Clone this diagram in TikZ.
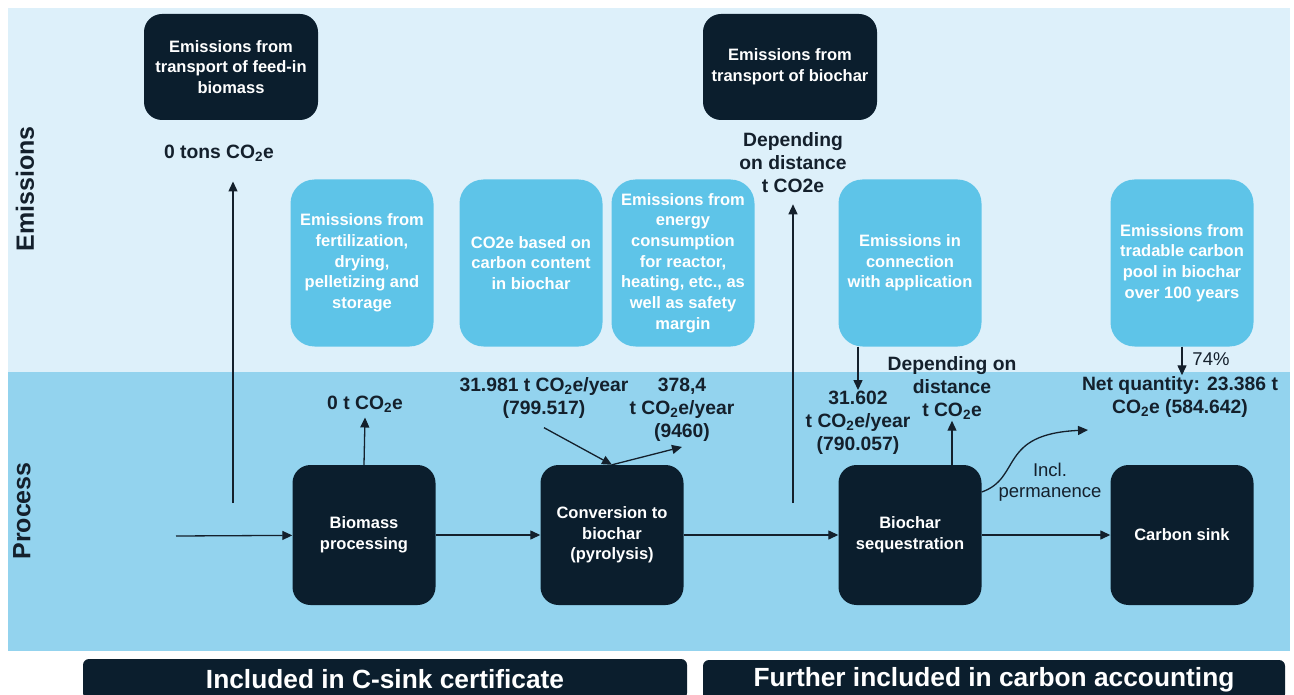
\documentclass[tikz,border=0pt]{standalone}
\usepackage{fontspec}
\setmainfont{Liberation Sans}
\usetikzlibrary{arrows.meta}
\definecolor{navy}{HTML}{0B1E2D}
\definecolor{skylight}{HTML}{DDF0FA}
\definecolor{skymid}{HTML}{93D3EE}
\definecolor{skybox}{HTML}{5EC4E8}
\definecolor{ink}{HTML}{14202C}

\begin{document}
\begin{tikzpicture}[x=1pt, y=-1pt,
  boxfont/.style={font=\bfseries\fontsize{16.5}{20.7}\selectfont},
  darkbox/.style={rectangle, rounded corners=18pt, fill=navy, text=white, align=center, boxfont},
  lightbox/.style={rectangle, rounded corners=24pt, fill=skybox, text=white, align=center, boxfont, minimum width=143pt, minimum height=167pt},
  stepbox/.style={darkbox, minimum width=143pt, minimum height=140pt},
  qty/.style={text=ink, align=center, inner sep=1pt, font=\bfseries\fontsize{19.3}{23}\selectfont},
  note/.style={text=ink, align=center, inner sep=1pt, font=\fontsize{18.5}{21}\selectfont},
  band/.style={rotate=90, text=ink, font=\bfseries\fontsize{25}{30}\selectfont},
  bar/.style={rectangle, rounded corners=6pt, fill=navy, text=white, minimum height=40pt, font=\bfseries\fontsize{26.3}{30}\selectfont},
  flow/.style={-{Triangle[length=10pt,width=9pt]}, line width=1.3pt, draw=ink}]
\useasboundingbox (0,0) rectangle (1294,695);
\fill[white] (0,0) rectangle (1294,695);
\fill[skylight] (8,8) rectangle (1290,372);
\fill[skymid] (8,372) rectangle (1290,651);

\node[band] (emlbl) at (25,189) {Emissions};
\node[band] (prlbl) at (22,511) {Process};

\node[darkbox, minimum width=174pt, minimum height=106pt] (trfeed) at (231,67) {Emissions from\\transport of feed-in\\biomass};
\node[darkbox, minimum width=174pt, minimum height=106pt] (trchar) at (790,67) {Emissions from\\transport of biochar};

\node[lightbox] (fert) at (362,263) {Emissions from\\fertilization,\\drying,\\pelletizing and\\storage};
\node[lightbox] (carb) at (531,263) {CO2e based on\\carbon content\\in biochar};
\node[lightbox] (energy) at (683,263) {Emissions from\\energy\\consumption\\for reactor,\\heating, etc., as\\well as safety\\margin};
\node[lightbox] (appl) at (910,263) {Emissions in\\connection\\with application};
\node[lightbox] (pool) at (1182,263) {Emissions from\\tradable carbon\\pool in biochar\\over 100 years};

\node[stepbox] (bio) at (364,535) {Biomass\\processing};
\node[stepbox] (conv) at (612,535) {Conversion to\\biochar\\(pyrolysis)};
\node[stepbox] (seq) at (910,535) {Biochar\\sequestration};
\node[stepbox] (sink) at (1182,535) {Carbon sink};

\node[qty] (tons0) at (219,153) {0 tons CO\textsubscript{2}e};
\node[qty] (dist1) at (793,163) {Depending\\on distance\\t CO2e};
\node[qty] (t0) at (365,404) {0 t CO\textsubscript{2}e};
\node[qty] (feedin) at (544,398) {31.981 t CO\textsubscript{2}e/year\\(799.517)};
\node[qty] (energyq) at (682,410) {378,4\\t CO\textsubscript{2}e/year\\(9460)};
\node[qty] (applq) at (858,423) {31.602\\t CO\textsubscript{2}e/year\\(790.057)};
\node[qty] (dist2) at (952,388) {Depending on\\distance\\t CO\textsubscript{2}e};
\node[qty] (net) at (1180,397) {Net quantity: 23.386 t\\CO\textsubscript{2}e (584.642)};
\node[note] (pct) at (1211,359) {74\%};
\node[note] (perm) at (1050,482) {Incl.\\permanence};

\node[bar, minimum width=604pt] (cert) at (385,679) {Included in C-sink certificate};
\node[bar, minimum width=582pt] (acct) at (994,680) {Further included in carbon accounting};

\coordinate (feed) at (176,536);
\coordinate (rise1) at (233,503);
\coordinate (rise2) at (793,503);
\coordinate (netin) at (1088,430);

\draw[flow] (feed) -- (bio);
\draw[flow] (bio) -- (conv);
\draw[flow] (conv) -- (seq);
\draw[flow] (seq) -- (sink);
\draw[flow] (rise1) -- ([yshift=-19pt]tons0.south -| rise1);
\draw[flow] (rise2) -- ([yshift=-10pt]dist1.south);
\draw[flow] (bio.north) -- ([yshift=-4pt]t0.south);
\draw[flow] ([yshift=-8pt]feedin.south) -- (conv.north);
\draw[flow] (conv.north) -- ([yshift=-4pt]energyq.south);
\draw[flow] (appl.south -| applq.north) -- (applq.north);
\draw[flow] (seq.north -| dist2.south) -- (dist2.south);
\draw[flow] (pool.south) -- (pool.south |- net.north);
\draw[flow] ([yshift=43pt]seq.east) .. controls (1022,478) and (998,434) .. (netin);
\end{tikzpicture}
\end{document}
